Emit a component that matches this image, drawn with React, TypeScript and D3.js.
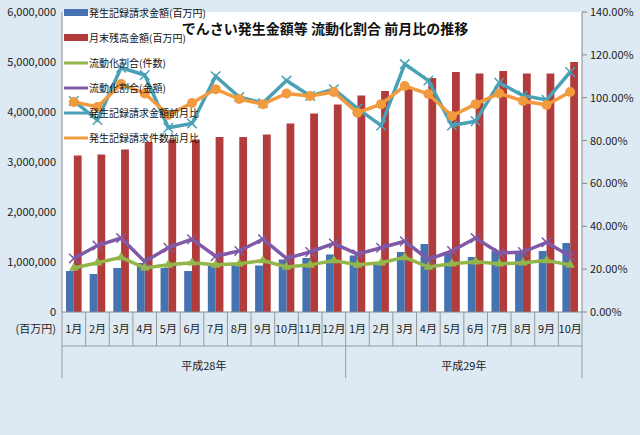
import * as d3 from "d3";

const months = ["1月","2月","3月","4月","5月","6月","7月","8月","9月","10月","11月","12月","1月","2月","3月","4月","5月","6月","7月","8月","9月","10月"];
const years = [{ label: "平成28年", from: 0, to: 12 }, { label: "平成29年", from: 12, to: 22 }];
const hassei = [0.82,0.76,0.88,0.98,0.88,0.82,0.92,0.95,0.93,1.05,1.08,1.15,1.13,1.0,1.2,1.36,1.2,1.1,1.22,1.2,1.22,1.38].map(v => v * 1e6);
const zandaka = [3.13,3.15,3.25,3.4,3.45,3.45,3.5,3.5,3.55,3.77,3.97,4.15,4.33,4.42,4.48,4.68,4.8,4.77,4.82,4.77,4.77,5.0].map(v => v * 1e6);
const ryudoKensu = [20.5,23,25.5,20.5,22,23,22,22.5,24,21,22,24,22,23,25.5,21,22.5,23.5,22.5,23,24,22];
const ryudoKingaku = [25,31,34.5,23.5,30,34,26,28.5,34,25,28,32,27,30,33,24.5,28.5,34.5,27.5,28,32.5,26];
const kingakuZengetsu = [98.5,89.6,114,110.6,86,88,110,100.3,97.5,108,100.8,104,95,87,115.7,108,87,89,107,101,99,112];
const kensuZengetsu = [98,95.7,106.4,102,92,97.5,104,99.4,97,102,100.8,102.7,93,97,105.5,101.7,91.5,97,102,98.5,96.6,102.7];
const leftTicks = [0,1e6,2e6,3e6,4e6,5e6,6e6];
const rightTicks = [0,20,40,60,80,100,120,140];

const W = 640, H = 435;
const L = 62, R = 582, T = 12, B = 312;
const font = "'Noto Sans CJK JP', sans-serif";

export default function App() {
  const x = d3.scaleBand<number>().domain(d3.range(22)).range([L, R]);
  const yL = d3.scaleLinear().domain([0, 6e6]).range([B, T]);
  const yR = d3.scaleLinear().domain([0, 140]).range([B, T]);
  const bw = x.bandwidth();
  const cx = (i: number) => (x(i) as number) + bw / 2;
  const line = (vals: number[]) => d3.line<number>().x((_, i) => cx(i)).y(v => yR(v))(vals) as string;
  const fmt = d3.format(",");
  const lines = [
    { vals: ryudoKingaku, color: "#7f5aa8", marker: "star" },
    { vals: ryudoKensu, color: "#93b64a", marker: "tri" },
    { vals: kingakuZengetsu, color: "#4aa1b6", marker: "star" },
    { vals: kensuZengetsu, color: "#f19a3e", marker: "circle" },
  ];
  const legend = [
    { label: "発生記録請求金額(百万円)", color: "#4572b0", type: "bar" },
    { label: "月末残高金額(百万円)", color: "#b23b3b", type: "bar" },
    { label: "流動化割合(件数)", color: "#93b64a", type: "line" },
    { label: "流動化割合(金額)", color: "#7f5aa8", type: "line" },
    { label: "発生記録請求金額前月比", color: "#4aa1b6", type: "line" },
    { label: "発生記録請求件数前月比", color: "#f19a3e", type: "line" },
  ];
  return (
    <svg width={W} height={H} style={{ position: "absolute", left: 0, top: 0 }} fontFamily={font}>
      <rect width={W} height={H} fill="#dde9f3" />
      <rect x={L} y={T} width={R - L} height={B - T} fill="#ffffff" />
      {leftTicks.map(t => (
        <text key={t} x={L - 6} y={yL(t) + 4} fontSize={11} textAnchor="end" fill="#222">{fmt(t)}</text>
      ))}
      {rightTicks.map(t => (
        <g key={t}>
          <line x1={R} x2={R + 5} y1={yR(t)} y2={yR(t)} stroke="#888" />
          <text x={R + 8} y={yR(t) + 4} fontSize={11} fill="#222">{t.toFixed(2)}%</text>
        </g>
      ))}
      <line x1={R} x2={R} y1={T} y2={B} stroke="#888" />
      {zandaka.map((v, i) => (
        <rect key={"z" + i} x={cx(i)} y={yL(v)} width={bw * 0.33} height={B - yL(v)} fill="#b23b3b" />
      ))}
      {hassei.map((v, i) => (
        <rect key={"h" + i} x={cx(i) - bw * 0.33} y={yL(v)} width={bw * 0.33} height={B - yL(v)} fill="#4572b0" />
      ))}
      {lines.map((l, k) => (
        <g key={k}>
          <path d={line(l.vals)} fill="none" stroke={l.color} strokeWidth={3.5} />
          {l.vals.map((v, i) =>
            l.marker === "circle" ? (
              <circle key={i} cx={cx(i)} cy={yR(v)} r={5} fill={l.color} />
            ) : l.marker === "tri" ? (
              <path key={i} d={d3.symbol(d3.symbolTriangle, 40)() as string} transform={`translate(${cx(i)},${yR(v)})`} fill={l.color} />
            ) : (
              <path key={i} d={d3.symbol(d3.symbolX, 60)() as string} transform={`translate(${cx(i)},${yR(v)})`} stroke={l.color} strokeWidth={1.5} fill="none" />
            )
          )}
        </g>
      ))}
      <line x1={L} x2={R} y1={B} y2={B} stroke="#888" />
      <line x1={L} x2={L} y1={T} y2={B} stroke="#888" />
      {d3.range(23).map(i => {
        const xx = i < 22 ? (x(i) as number) : R;
        const tall = i === 0 || i === 12 || i === 22;
        return <line key={"t" + i} x1={xx} x2={xx} y1={B} y2={tall ? 378 : 346} stroke="#999" />;
      })}
      <line x1={L} x2={R} y1={346} y2={346} stroke="#999" />
      <text x={L - 6} y={333} fontSize={11} textAnchor="end" fill="#222">(百万円)</text>
      {months.map((m, i) => (
        <text key={"m" + i} x={cx(i)} y={333} fontSize={11} textAnchor="middle" fill="#222">{m}</text>
      ))}
      {years.map(y => (
        <text key={y.label} x={((x(y.from) as number) + (y.to < 22 ? (x(y.to) as number) : R)) / 2} y={370} fontSize={11} textAnchor="middle" fill="#222">{y.label}</text>
      ))}
      <rect x={180} y={16} width={290} height={24} fill="#ffffff" />
      <text x={325} y={34} fontSize={14} fontWeight="bold" textAnchor="middle" fill="#111">でんさい発生金額等 流動化割合 前月比の推移</text>
      {legend.map((g, i) => {
        const yy = 13 + i * 25;
        return (
          <g key={g.label}>
            {g.type === "bar" ? (
              <rect x={64} y={yy - 4} width={24} height={7} fill={g.color} />
            ) : (
              <line x1={64} x2={88} y1={yy} y2={yy} stroke={g.color} strokeWidth={3} />
            )}
            <text x={89} y={yy + 4} fontSize={10} fill="#111">{g.label}</text>
          </g>
        );
      })}
    </svg>
  );
}
